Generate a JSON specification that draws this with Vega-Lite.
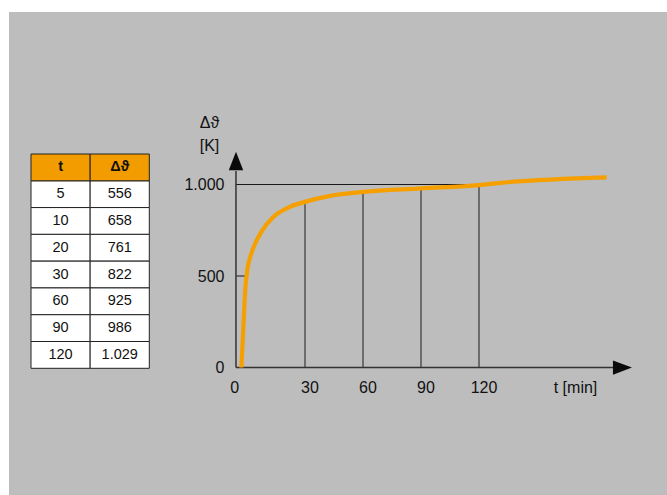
{
  "$schema": "https://vega.github.io/schema/vega-lite/v6.json",
  "width": 658,
  "height": 483,
  "padding": {"left": 9, "top": 12, "right": 0, "bottom": 0},
  "autosize": {"type": "none"},
  "background": "#ffffff",
  "config": {
    "view": {"fill": "#bdbdbe", "stroke": null},
    "font": "Liberation Sans",
    "locale": {"number": {"decimal": ",", "thousands": ".", "grouping": [3], "currency": ["", " €"]}}
  },
  "datasets": {
    "table": [
      {"row": "5", "t": 5, "dtheta": 556},
      {"row": "10", "t": 10, "dtheta": 658},
      {"row": "20", "t": 20, "dtheta": 761},
      {"row": "30", "t": 30, "dtheta": 822},
      {"row": "60", "t": 60, "dtheta": 925},
      {"row": "90", "t": 90, "dtheta": 986},
      {"row": "120", "t": 120, "dtheta": 1029}
    ],
    "header": [
      {"row": "head", "key": "t", "label": "t"},
      {"row": "head", "key": "dtheta", "label": "Δϑ"}
    ],
    "curve": [
      {"t": -2.9, "v": 0}, {"t": -2.2, "v": 150}, {"t": -1.55, "v": 296}, {"t": -0.9, "v": 423},
      {"t": 0.15, "v": 533}, {"t": 1.7, "v": 605}, {"t": 4.3, "v": 679}, {"t": 7.5, "v": 742},
      {"t": 13.6, "v": 822}, {"t": 22.2, "v": 878}, {"t": 30, "v": 905}, {"t": 43, "v": 938},
      {"t": 60, "v": 960}, {"t": 90, "v": 979}, {"t": 120, "v": 997}, {"t": 131, "v": 1009},
      {"t": 186, "v": 1039}
    ],
    "guides": [
      {"t0": 30, "t1": 30, "v0": 0, "v1": 905},
      {"t0": 60, "t1": 60, "v0": 0, "v1": 960},
      {"t0": 90, "t1": 90, "v0": 0, "v1": 979},
      {"t0": 120, "t1": 120, "v0": 0, "v1": 997},
      {"t0": -5.7, "t1": -0.5, "v0": 500, "v1": 500}
    ],
    "limit": [
      {"t0": -5.7, "t1": 122, "v0": 1000, "v1": 1000}
    ],
    "axislines": [
      {"t0": -5.7, "t1": 189.3, "v0": 0, "v1": 0},
      {"t0": -5.7, "t1": -5.7, "v0": 0, "v1": 1074}
    ],
    "arrows": [
      {"dir": "up", "t": -5.7, "v": 1128.4},
      {"dir": "right", "t": 194.2, "v": 0}
    ]
  },
  "layer": [
    {
      "data": {"name": "table"},
      "transform": [{"fold": ["t", "dtheta"], "as": ["key", "value"]}],
      "mark": {"type": "rect", "fill": "#ffffff", "stroke": "#222222", "strokeWidth": 1},
      "encoding": {
        "x": {"field": "key", "type": "nominal", "axis": null,
              "scale": {"type": "band", "domain": ["t", "dtheta"], "paddingInner": 0, "paddingOuter": 0, "range": [22, 140.3]}},
        "y": {"field": "row", "type": "nominal", "axis": null,
              "scale": {"type": "band", "domain": ["head", "5", "10", "20", "30", "60", "90", "120"], "paddingInner": 0, "paddingOuter": 0, "range": [142, 356.3]}}
      }
    },
    {
      "data": {"name": "header"},
      "mark": {"type": "rect", "fill": "#f39c00", "stroke": "#222222", "strokeWidth": 1},
      "encoding": {
        "x": {"field": "key", "type": "nominal", "axis": null,
              "scale": {"type": "band", "domain": ["t", "dtheta"], "paddingInner": 0, "paddingOuter": 0, "range": [22, 140.3]}},
        "y": {"field": "row", "type": "nominal", "axis": null,
              "scale": {"type": "band", "domain": ["head", "5", "10", "20", "30", "60", "90", "120"], "paddingInner": 0, "paddingOuter": 0, "range": [142, 356.3]}}
      }
    },
    {
      "data": {"name": "table"},
      "transform": [{"fold": ["t", "dtheta"], "as": ["key", "value"]}],
      "mark": {"type": "text", "fontSize": 14.5, "color": "#111111", "align": "center", "baseline": "middle"},
      "encoding": {
        "x": {"field": "key", "type": "nominal", "axis": null,
              "scale": {"type": "band", "domain": ["t", "dtheta"], "paddingInner": 0, "paddingOuter": 0, "range": [22, 140.3]}},
        "y": {"field": "row", "type": "nominal", "axis": null,
              "scale": {"type": "band", "domain": ["head", "5", "10", "20", "30", "60", "90", "120"], "paddingInner": 0, "paddingOuter": 0, "range": [142, 356.3]}},
        "text": {"field": "value", "type": "quantitative", "format": ","}
      }
    },
    {
      "data": {"name": "header"},
      "mark": {"type": "text", "fontSize": 14.5, "fontWeight": "bold", "color": "#111111", "align": "center", "baseline": "middle"},
      "encoding": {
        "x": {"field": "key", "type": "nominal", "axis": null,
              "scale": {"type": "band", "domain": ["t", "dtheta"], "paddingInner": 0, "paddingOuter": 0, "range": [22, 140.3]}},
        "y": {"field": "row", "type": "nominal", "axis": null,
              "scale": {"type": "band", "domain": ["head", "5", "10", "20", "30", "60", "90", "120"], "paddingInner": 0, "paddingOuter": 0, "range": [142, 356.3]}},
        "text": {"field": "label", "type": "nominal"}
      }
    },
    {
      "data": {"name": "limit"},
      "mark": {"type": "rule", "color": "#1a1a1a", "strokeWidth": 1.1},
      "encoding": {
        "x": {"field": "t0", "type": "quantitative", "axis": null,
              "scale": {"domain": [-123.1, 217.24], "nice": false, "zero": false}},
        "x2": {"field": "t1"},
        "y": {"field": "v0", "type": "quantitative", "axis": null,
              "scale": {"domain": [-696.7, 1942.6], "nice": false, "zero": false}},
        "y2": {"field": "v1"}
      }
    },
    {
      "data": {"name": "guides"},
      "mark": {"type": "rule", "color": "#4a4a4a", "strokeWidth": 1.4},
      "encoding": {
        "x": {"field": "t0", "type": "quantitative", "axis": null,
              "scale": {"domain": [-123.1, 217.24], "nice": false, "zero": false}},
        "x2": {"field": "t1"},
        "y": {"field": "v0", "type": "quantitative", "axis": null,
              "scale": {"domain": [-696.7, 1942.6], "nice": false, "zero": false}},
        "y2": {"field": "v1"}
      }
    },
    {
      "data": {"name": "axislines"},
      "mark": {"type": "rule", "color": "#333333", "strokeWidth": 1.5},
      "encoding": {
        "x": {"field": "t0", "type": "quantitative", "axis": null,
              "scale": {"domain": [-123.1, 217.24], "nice": false, "zero": false}},
        "x2": {"field": "t1"},
        "y": {"field": "v0", "type": "quantitative", "axis": null,
              "scale": {"domain": [-696.7, 1942.6], "nice": false, "zero": false}},
        "y2": {"field": "v1"}
      }
    },
    {
      "data": {"name": "arrows"},
      "mark": {"type": "point", "filled": true, "fill": "#0a0a0a", "opacity": 1, "strokeWidth": 0, "size": 361},
      "encoding": {
        "x": {"field": "t", "type": "quantitative", "axis": null,
              "scale": {"domain": [-123.1, 217.24], "nice": false, "zero": false}},
        "y": {"field": "v", "type": "quantitative", "axis": null,
              "scale": {"domain": [-696.7, 1942.6], "nice": false, "zero": false}},
        "shape": {"field": "dir", "type": "nominal", "legend": null,
                  "scale": {"domain": ["up", "right"], "range": ["M0,-0.98L0.76,0.98L-0.76,0.98Z", "M1,0L-1,0.75L-1,-0.75Z"]}}
      }
    },
    {
      "data": {"name": "curve"},
      "mark": {"type": "line", "color": "#f5a000", "strokeWidth": 4.2, "interpolate": "monotone"},
      "encoding": {
        "x": {"field": "t", "type": "quantitative",
              "scale": {"domain": [-123.1, 217.24], "nice": false, "zero": false},
              "axis": {"orient": "bottom", "offset": -127.5, "values": [-8.9, 30, 60, 90, 120],
                       "labelExpr": "datum.value < 0 ? '0' : datum.label",
                       "domain": false, "ticks": false, "grid": false, "zindex": 2,
                       "labelPadding": 20, "labelBaseline": "middle", "labelOffset": 4.5,
                       "labelFontSize": 16, "labelColor": "#111111", "labelFlush": false, "labelOverlap": false,
                       "title": "t [min]", "titleX": 566, "titleY": 20, "titleAlign": "center", "titleBaseline": "middle",
                       "titleFontSize": 16, "titleFontWeight": "normal", "titleColor": "#111111"}},
        "y": {"field": "v", "type": "quantitative",
              "scale": {"domain": [-696.7, 1942.6], "nice": false, "zero": false},
              "axis": {"orient": "left", "offset": -227, "values": [0, 500, 1000], "format": ",.0f",
                       "domain": false, "ticks": false, "grid": false, "zindex": 2,
                       "labelPadding": 12, "labelBaseline": "middle", "labelFontSize": 16, "labelColor": "#111111",
                       "labelFlush": false, "labelOverlap": false,
                       "title": ["Δϑ", "[K]"], "titleAngle": 0, "titleX": -27, "titleY": 110,
                       "titleAlign": "center", "titleBaseline": "middle", "titleLineHeight": 23.5,
                       "titleFontSize": 16, "titleFontWeight": "normal", "titleColor": "#111111"}}
      }
    }
  ],
  "resolve": {"scale": {"x": "independent", "y": "independent"}}
}
